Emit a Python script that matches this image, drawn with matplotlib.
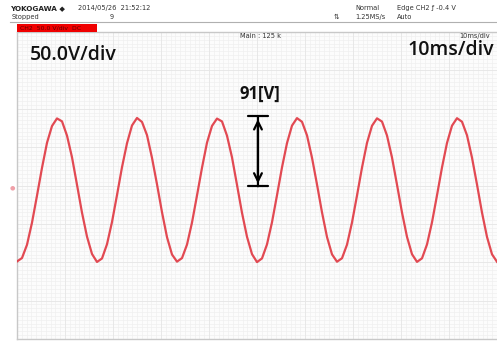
import numpy as np
import matplotlib
matplotlib.use("Agg")
import matplotlib.pyplot as plt

# scope settings
volts_per_div = 50.0
ms_per_div = 10.0
n_xdiv = 10
n_ydiv = 8

# CH2 samples, evenly spaced over 100 ms (V)
ch2_volts = [
    -99.0, -94.5, -77.2, -48.4, -13.2, 23.0, 55.6, 77.5, 87.4, 83.6, 65.0, 36.8, 1.0, -35.4, -66.6, -89.2,
    -99.6, -95.1, -76.5, -47.6, -12.5, 23.8, 55.0, 78.2, 88.0, 82.8, 65.6, 36.0, 1.6, -34.8, -67.3, -89.9,
    -99.2, -94.6, -77.0, -48.3, -13.0, 23.1, 55.8, 77.6, 87.2, 83.5, 64.9, 36.7, 0.8, -35.6, -66.8, -89.4,
    -99.8, -95.0, -76.7, -47.9, -12.7, 23.6, 55.2, 78.0, 87.8, 83.0, 65.3, 36.2, 1.4, -35.0, -67.1, -89.7,
    -99.3, -94.8, -77.1, -48.2, -13.1, 23.3, 55.5, 77.8, 87.5, 83.3, 65.1, 36.5, 1.1, -35.2, -66.9, -89.5,
    -99.5, -94.9, -76.8, -48.0, -12.8, 23.5, 55.4, 77.9, 87.7, 83.1, 65.4, 36.3, 1.3, -35.3, -67.0, -89.6,
    -99.4,
]

vdiv_label = "50.0V/div"
tdiv_label = "10ms/div"
amp_label = "91[V]"
amp_value = 90.0

W, H = 497, 341
fig = plt.figure(figsize=(W / 100, H / 100), dpi=100)
fig.patch.set_facecolor("white")


def px(x, y):
    return x / W, 1 - y / H


# main screen area
ax = fig.add_axes([17 / W, (H - 339) / H, (W - 17) / W, (339 - 32) / H])
t_end = ms_per_div * n_xdiv
v_top = volts_per_div * n_ydiv / 2
ax.set_xlim(0, t_end)
ax.set_ylim(-v_top, v_top)
ax.set_facecolor("#fcfcfc")

# fine grid, then division lines
for xv in np.arange(0, t_end, ms_per_div / 10):
    ax.axvline(xv, color="#f0f0f0", lw=0.5, zorder=0)
for yv in np.arange(-v_top, v_top, volts_per_div / 10):
    ax.axhline(yv, color="#f0f0f0", lw=0.5, zorder=0)
for xv in np.arange(0, t_end, ms_per_div):
    ax.axvline(xv, color="#e6e6e6", lw=0.6, zorder=0)
for yv in np.arange(-v_top, v_top, volts_per_div):
    ax.axhline(yv, color="#e6e6e6", lw=0.6, zorder=0)

t = np.arange(len(ch2_volts)) * t_end / (len(ch2_volts) - 1)
ax.plot(t, ch2_volts, color="#e03640", lw=1.6, alpha=0.9, solid_joinstyle="round", zorder=3)

ax.set_xticks([])
ax.set_yticks([])
for side in ["top", "left", "bottom"]:
    ax.spines[side].set_color("#c8c8c8")
    ax.spines[side].set_linewidth(1.0)
ax.spines["right"].set_visible(False)

# amplitude arrow
xa = 50.2
ax.annotate("", xy=(xa, amp_value), xytext=(xa, -1.0),
            arrowprops=dict(arrowstyle="<->", color="black", lw=1.6, mutation_scale=14), zorder=5)
ax.annotate("", xy=(xa, amp_value), xytext=(xa, -1.0),
            arrowprops=dict(arrowstyle="|-|, widthA=0.5, widthB=0.5", color="black", lw=1.6,
                            mutation_scale=14, shrinkA=0, shrinkB=0), zorder=5)

# overlay labels
fig.text(*px(30, 55), vdiv_label, fontsize=14, family="Open Sans", fontweight="semibold", color="#111111",
         va="center", ha="left")
fig.text(*px(494, 50), tdiv_label, fontsize=14, family="Open Sans", fontweight="semibold", color="#111111",
         va="center", ha="right")
fig.text(*px(260, 94), amp_label, fontsize=12, family="Open Sans", fontweight="bold", color="#111111",
         va="center", ha="center")

# header of the scope screen
small = dict(fontsize=4.8, family="DejaVu Sans", color="#333333", va="center", ha="left")
fig.text(*px(10, 8), "YOKOGAWA ◆", fontsize=5.2, family="DejaVu Sans", fontweight="bold", color="#222222",
         va="center", ha="left")
fig.text(*px(78, 8), "2014/05/26  21:52:12", **small)
fig.text(*px(12, 17), "Stopped", **small)
fig.text(*px(110, 17), "9", **small)
fig.text(*px(334, 17), "⇅", **small)
fig.text(*px(355, 8), "Normal", **small)
fig.text(*px(355, 17), "1.25MS/s", **small)
fig.text(*px(397, 8), "Edge CH2 \u0192 -0.4 V", **small)
fig.text(*px(397, 17), "Auto", **small)
fig.text(*px(240, 36), "Main : 125 k", **small)
fig.text(*px(490, 36), "10ms/div", fontsize=4.8, family="DejaVu Sans", color="#333333", va="center", ha="right")

fig.add_artist(plt.Line2D([10 / W, 1], [1 - 22 / H, 1 - 22 / H], color="#b0b0b0", lw=0.8))
fig.add_artist(plt.Rectangle(px(17, 32), 80 / W, 8.5 / H, facecolor="#f00000", edgecolor="none"))
fig.text(*px(20, 28), "CH2  50.0 V/div  DC", fontsize=4.4, family="DejaVu Sans", color="#600000",
         va="center", ha="left")
fig.text(*px(12, 188), "●", fontsize=4.5, color="#f0a0a8", va="center", ha="center")

fig.savefig("out.png", dpi=100)
